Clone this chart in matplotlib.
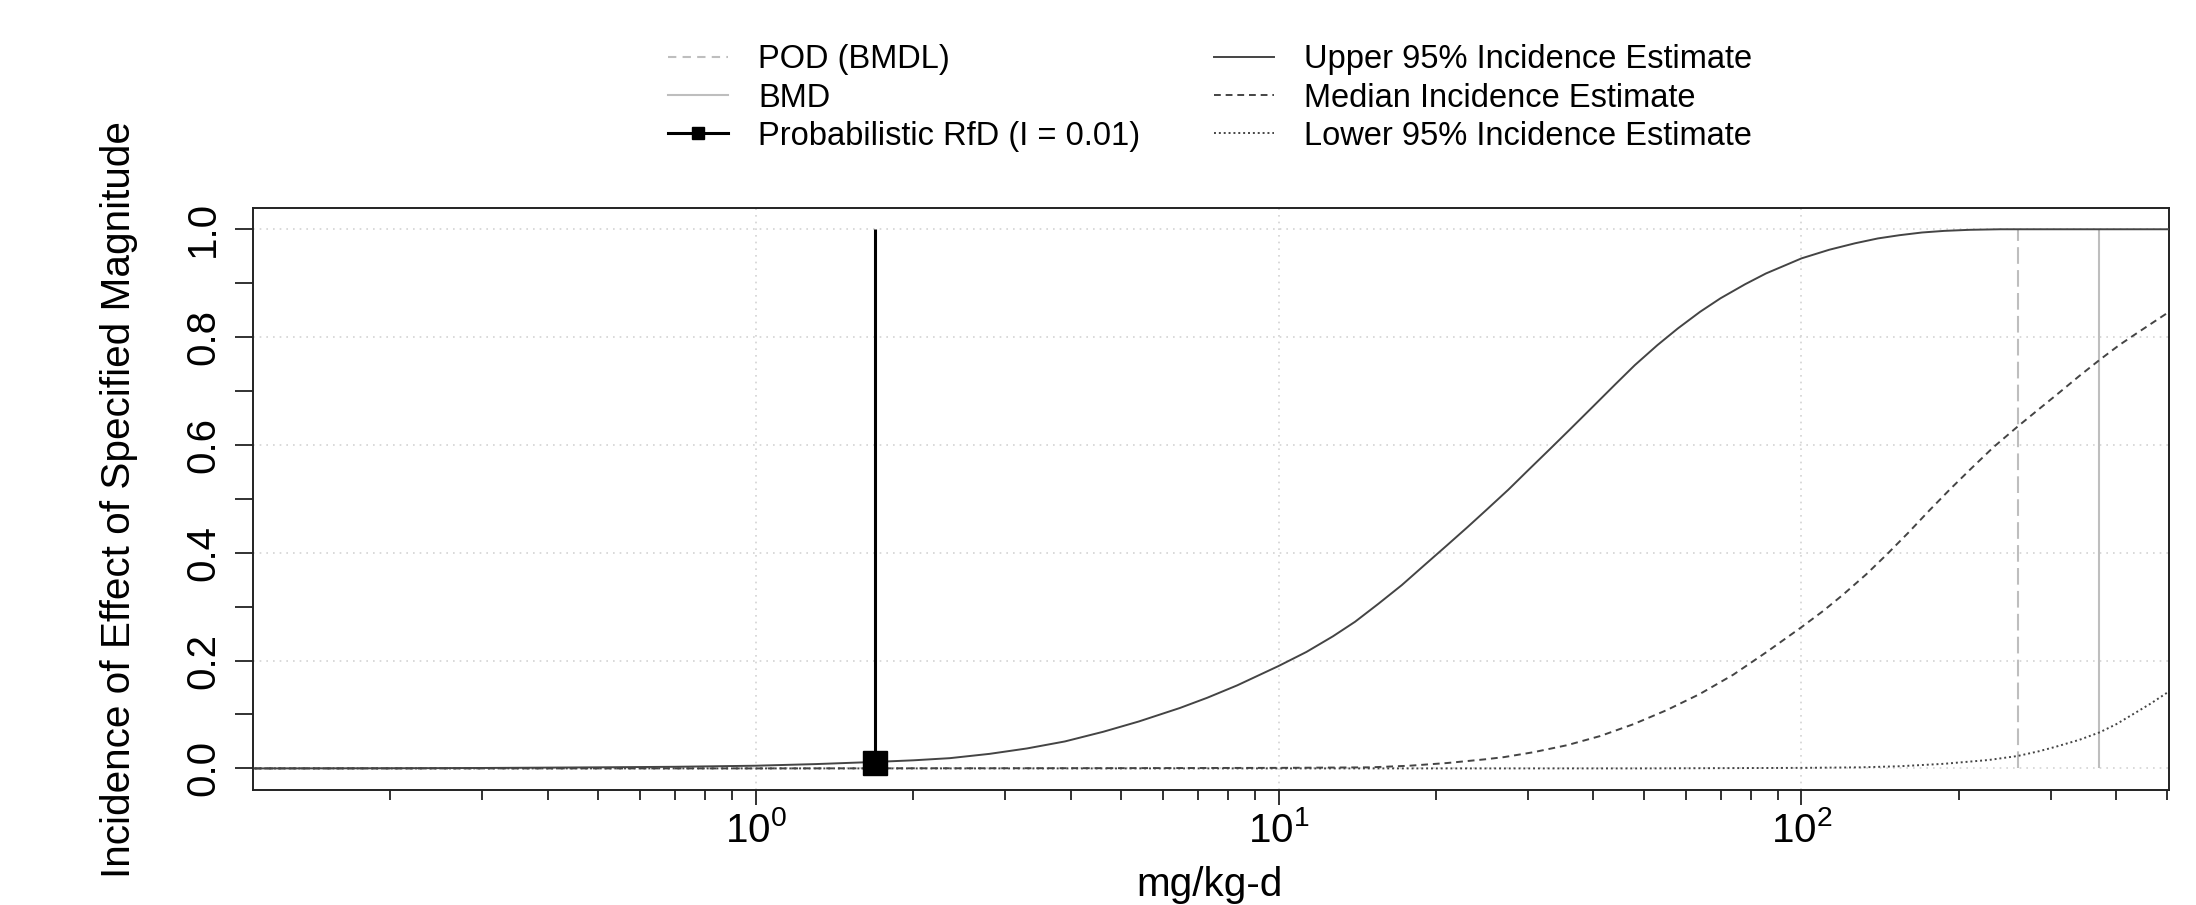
import matplotlib
matplotlib.use("Agg")

import matplotlib.pyplot as plt
import numpy as np
from matplotlib.lines import Line2D
from matplotlib.ticker import LogLocator, MultipleLocator, NullFormatter

plt.rcParams["font.family"] = ["Liberation Sans", "DejaVu Sans"]
plt.rcParams["mathtext.fontset"] = "custom"
plt.rcParams["mathtext.rm"] = "Liberation Sans"

# ---------------------------------------------------------------------------
# Data (dose in mg/kg-d, incidence 0..1)
# ---------------------------------------------------------------------------
upper_dose = [0.11, 0.2, 0.3, 0.5, 0.7, 1.0, 1.3, 1.69, 2.0, 2.35, 2.8, 3.3,
              3.9, 4.62, 5.4, 6.47, 7.3, 8.33, 10.0, 11.3, 12.7, 14.0, 15.5,
              17.2, 19.0, 21.0, 23.0, 25.0, 27.5, 30.0, 33.0, 36.0, 40.0,
              44.0, 48.0, 53.0, 58.0, 64.0, 70.0, 78.0, 85.5, 93.0, 100.0,
              113.0, 126.6, 140.0, 154.0, 170.0, 187.5, 210.0, 240.0, 300.0,
              400.0, 505.0]
upper_inc = [0.0, 0.0003, 0.0008, 0.002, 0.003, 0.005, 0.008, 0.012, 0.015,
             0.019, 0.027, 0.037, 0.050, 0.068, 0.087, 0.112, 0.131, 0.154,
             0.190, 0.216, 0.245, 0.272, 0.305, 0.340, 0.377, 0.414, 0.448,
             0.480, 0.517, 0.553, 0.592, 0.628, 0.672, 0.712, 0.748, 0.785,
             0.816, 0.847, 0.872, 0.898, 0.918, 0.933, 0.946, 0.962, 0.974,
             0.983, 0.989, 0.994, 0.997, 0.999, 1.0, 1.0, 1.0, 1.0]

median_dose = [0.11, 1.0, 5.0, 10.0, 15.0, 17.8, 21.0, 24.9, 27.0, 30.7,
               35.6, 41.2, 47.7, 55.2, 63.9, 74.1, 85.8, 100.0, 110.0, 120.0,
               133.0, 146.0, 160.0, 175.0, 192.0, 211.0, 233.0, 259.0, 285.0,
               312.0, 340.0, 372.0, 405.0, 436.0, 470.0, 505.0]
median_inc = [0.0, 0.0, 0.0005, 0.001, 0.002, 0.005, 0.010, 0.017, 0.021,
              0.030, 0.043, 0.060, 0.082, 0.108, 0.138, 0.174, 0.216, 0.262,
              0.292, 0.322, 0.360, 0.398, 0.437, 0.477, 0.517, 0.556, 0.596,
              0.634, 0.667, 0.698, 0.728, 0.758, 0.785, 0.806, 0.827, 0.847]

lower_dose = [0.11, 50.0, 100.0, 130.0, 154.0, 187.0, 228.0, 259.0, 285.0,
              306.0, 340.0, 372.0, 400.0, 428.0, 465.0, 505.0]
lower_inc = [0.0, 0.0, 0.001, 0.002, 0.004, 0.0085, 0.0156, 0.023, 0.032,
             0.040, 0.053, 0.067, 0.082, 0.099, 0.120, 0.143]

pod_bmdl = 259.0
bmd = 371.0
rfd_dose = 1.69
rfd_incidence = 0.01

legend_labels = ["POD (BMDL)", "BMD", "Probabilistic RfD (I = 0.01)",
                 "Upper 95% Incidence Estimate", "Median Incidence Estimate",
                 "Lower 95% Incidence Estimate"]

# ---------------------------------------------------------------------------
# Figure
# ---------------------------------------------------------------------------
curve_col = "#444444"
ref_col = "#bebebe"

fig = plt.figure(figsize=(21.96, 9.05), dpi=100)
ax = fig.add_axes([0.1150, 0.1271, 0.8728, 0.6434])

ax.set_xscale("log")
ax.set_xlim(0.109, 505)
ax.set_ylim(-0.04, 1.04)

ax.grid(True, which="major", color="#d3d3d3", linestyle=(0, (1, 3)),
        linewidth=1.2, zorder=0)

ax.plot(upper_dose, upper_inc, color=curve_col, lw=1.4, zorder=3)
ax.plot(median_dose, median_inc, color=curve_col, lw=1.4,
        linestyle=(0, (3.5, 2.5)), zorder=3)
ax.plot(lower_dose, lower_inc, color=curve_col, lw=1.4,
        linestyle=(0, (1, 1.5)), zorder=3)

ax.vlines(pod_bmdl, 0, 1, colors=ref_col, lw=1.5, linestyles=[(0, (8, 3))],
          zorder=2)
ax.vlines(bmd, 0, 1, colors=ref_col, lw=1.5, zorder=2)

ax.vlines(rfd_dose, rfd_incidence, 1, colors="black", lw=2.2, zorder=4)
ax.plot([rfd_dose], [rfd_incidence], marker="s", markersize=17,
        color="black", linestyle="none", zorder=5)

# Axes styling
for sp in ax.spines.values():
    sp.set_linewidth(1.4)
    sp.set_color("#222222")

ax.xaxis.set_major_locator(LogLocator(base=10, numticks=10))
ax.xaxis.set_minor_locator(LogLocator(base=10, subs=np.arange(2, 10),
                                      numticks=20))
ax.xaxis.set_minor_formatter(NullFormatter())
ax.yaxis.set_major_locator(MultipleLocator(0.2))
ax.yaxis.set_minor_locator(MultipleLocator(0.1))
ax.yaxis.set_major_formatter(plt.FuncFormatter(lambda v, p: f"{v:.1f}"))

ax.tick_params(axis="x", which="major", length=11, width=1.3, labelsize=29,
               pad=4, color="#222222")
ax.tick_params(axis="x", which="minor", length=7.5, width=1.3,
               color="#222222")
ax.tick_params(axis="y", which="both", length=13, width=1.3, labelsize=29,
               pad=9, color="#222222")
for lab in ax.get_yticklabels():
    lab.set_rotation(90)
    lab.set_va("center")
    lab.set_ha("right")

fig.text(0.0542, 0.4485, "Incidence of Effect of Specified Magnitude",
         rotation=90, ha="center", va="center", fontsize=29.2)
fig.text(0.551, 0.0095, "mg/kg-d", ha="center", va="baseline",
         fontsize=29.2)

# Legend (two columns, no frame)
handles = [
    Line2D([], [], color=ref_col, lw=1.5, linestyle=(0, (4, 3))),
    Line2D([], [], color=ref_col, lw=1.5),
    Line2D([], [], color="black", lw=2.2, marker="s", markersize=9),
    Line2D([], [], color=curve_col, lw=1.4),
    Line2D([], [], color=curve_col, lw=1.4, linestyle=(0, (3.5, 2.5))),
    Line2D([], [], color=curve_col, lw=1.4, linestyle=(0, (1, 1.5))),
]
fig.legend(handles, legend_labels, ncol=2, frameon=False, fontsize=23.5,
           loc="upper left", bbox_to_anchor=(0.3042, 0.951),
           borderpad=0, borderaxespad=0, handlelength=1.84,
           handletextpad=0.92, columnspacing=2.27, labelspacing=0.22)

fig.savefig("out.png", dpi=100)
plt.close(fig)
